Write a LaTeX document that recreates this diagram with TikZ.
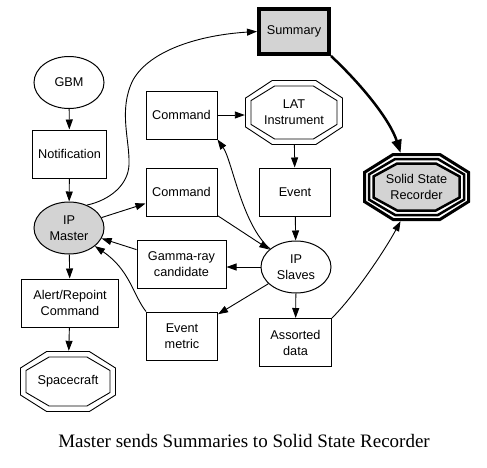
\documentclass[tikz,border=0pt]{standalone}
\usepackage{fontspec}
\setmainfont{Liberation Sans}
\newfontfamily\capfont{Liberation Serif}
\usetikzlibrary{arrows.meta,shapes.geometric,calc}
\definecolor{fillgray}{HTML}{D3D3D3}
\newcommand\octg[5]{\draw[#1] ({#2+#4},{#3+0.45*#5}) -- ({#2+0.45*#4},{#3+#5}) -- ({#2-0.45*#4},{#3+#5}) -- ({#2-#4},{#3+0.45*#5}) -- ({#2-#4},{#3-0.45*#5}) -- ({#2-0.45*#4},{#3-#5}) -- ({#2+0.45*#4},{#3-#5}) -- ({#2+#4},{#3-0.45*#5}) -- cycle;}
\tikzset{
  lbl/.style={font=\fontsize{12.7}{16}\selectfont, align=center, inner sep=0pt},
  box/.style={lbl, draw, rectangle, line width=1pt, minimum height=48},
  ell/.style={lbl, draw, ellipse, line width=1pt, minimum width=70, minimum height=52},
  octnode/.style={lbl, rectangle},
  conn/.style={line width=0.9pt, -{Triangle[length=10pt,width=7pt]}},
  thickconn/.style={line width=2.5pt, -{Triangle[length=13pt,width=10pt]}},
}
\begin{document}
\begin{tikzpicture}[x=1pt,y=-1pt]
\useasboundingbox (0,0) rectangle (487,467);
% octagon outlines
\octg{line width=0.9pt}{294}{112.5}{48.5}{32}
\octg{line width=0.9pt}{294}{112.5}{43}{26.5}
\octg{line width=0.9pt}{68}{381.5}{47.5}{30}
\octg{line width=0.9pt}{68}{381.5}{42}{24.5}
\octg{line width=3pt}{416.5}{187}{52}{32.5}
\octg{line width=2.5pt}{416.5}{187}{47.5}{28}
\octg{line width=2.5pt, fill=fillgray}{416.5}{187}{43}{23.5}
% nodes
\node[ell] (gbm) at (69,82.5) {GBM};
\node[box, minimum width=74] (notif) at (69.5,154) {Notification};
\node[ell, fill=fillgray] (ipm) at (69,228) {IP\\Master};
\node[box, minimum width=97] (alert) at (70,303) {Alert/Repoint\\Command};
\node[octnode, minimum width=96, minimum height=61] (sc) at (68,381.5) {Spacecraft};
\node[box, minimum width=71] (cmd1) at (181.5,115) {Command};
\node[box, minimum width=71] (cmd2) at (181.5,192) {Command};
\node[box, minimum width=89, fill=white] (gamma) at (181.5,264) {Gamma-ray\\candidate};
\node[box, minimum width=71] (metric) at (182,336) {Event\\metric};
\node[box, line width=4pt, fill=fillgray, minimum width=70, minimum height=45] (summary) at (294,31.5) {Summary};
\node[octnode, minimum width=98, minimum height=65] (lat) at (294,112.5) {LAT\\Instrument};
\node[box, minimum width=71] (event) at (295,192) {Event};
\node[ell] (ipsl) at (296,267) {IP\\Slaves};
\node[box, minimum width=72] (assorted) at (295.5,342.5) {Assorted\\data};
\node[octnode, minimum width=107, minimum height=68] (ssr) at (416.5,187) {Solid State\\Recorder};
% connectors
\draw[conn] (gbm) -- (notif);
\draw[conn] (notif) -- (ipm);
\draw[conn] (ipm) -- (alert);
\draw[conn] (alert) -- (sc);
\draw[conn] (ipm) -- (cmd2);
\draw[conn] (ipm.52) .. controls (110,200) and (128,185) .. (129,165) .. controls (130,140) and (118,110) .. (133,80) .. controls (150,50) and (200,35) .. (summary.west);
\draw[conn] (cmd1.east) -- (cmd1.east -| lat.west);
\draw[conn] (lat) -- (event);
\draw[conn] (event) -- (ipsl);
\draw[conn] (cmd2) -- (ipsl);
\draw[conn] (ipsl.145) .. controls (242,225) and (232,160) .. (cmd1.south east);
\draw[conn] (ipsl.west) -- (ipsl.west -| gamma.east);
\draw[conn] (ipsl) -- (metric);
\draw[conn] (gamma) -- (ipm);
\draw[conn] (metric.north west) .. controls (133,295) and (130,270) .. (ipm.-35);
\draw[conn] (ipsl) -- (assorted);
\draw[conn] (assorted.north east) .. controls (355,295) and (385,250) .. (ssr.-115);
\draw[thickconn] (summary.south east) .. controls (362,85) and (390,120) .. (ssr.115);
% caption
\node[font=\capfont\fontsize{19}{22}\selectfont, anchor=base, inner sep=0pt] (cap) at (244,447) {Master sends Summaries to Solid State Recorder};
\end{tikzpicture}
\end{document}
